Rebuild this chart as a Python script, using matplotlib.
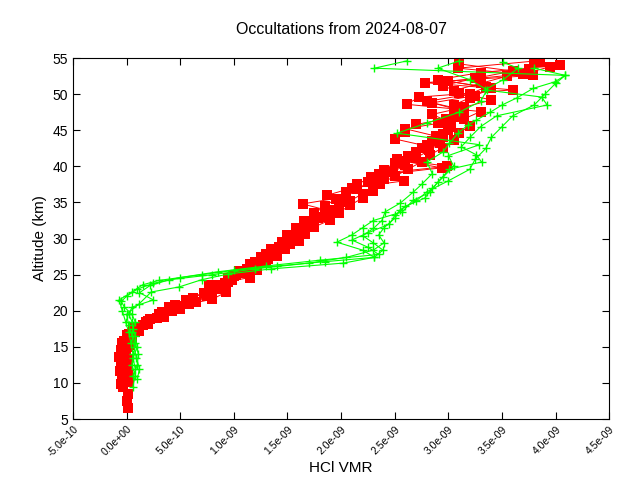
import matplotlib
matplotlib.use("Agg")
import matplotlib.pyplot as plt
import numpy as np

plt.rcParams['font.family'] = ['Liberation Sans', 'DejaVu Sans']

# HCl VMR profiles, x in units of 1e-9, altitude in km
red_a_alt = [6.5, 7.5, 8.5, 9.5, 10.5, 11.5, 12.5, 13.5, 14.5, 15.5, 16.5, 17.5, 18.5, 19.5, 20.5,
             21.5, 22.5, 23.5, 24.5, 25.5, 26.5, 27.5, 28.5, 29.5, 30.5, 31.5, 32.5, 33.5, 34.5,
             35.5, 36.5, 37.5, 38.5, 39.5, 40.5, 41.5, 42.5, 43.5, 44.5, 45.5, 46.5, 47.5, 48.5,
             49.5, 50.5, 51.5, 52.5, 53.5, 54.5]
red_a_vmr = [0.01, 0.00, 0.01, -0.03, 0.00, 0.01, -0.01, -0.02, -0.01, 0.00, 0.03, 0.07, 0.18, 0.30, 0.40,
             0.55, 0.72, 0.82, 0.95, 1.05, 1.15, 1.25, 1.35, 1.45, 1.50, 1.58, 1.65, 1.75, 1.85,
             1.95, 2.05, 2.15, 2.28, 2.40, 2.50, 2.62, 2.75, 2.85, 2.95, 3.02, 2.98, 3.10, 3.05,
             3.20, 3.05, 3.30, 3.55, 3.75, 3.85]

red_b_alt = [9.8, 10.8, 11.8, 12.8, 13.8, 14.8, 15.8, 16.8, 17.8, 18.8, 19.8, 20.8, 21.8, 22.8,
             23.8, 24.8, 25.8, 26.8, 27.8, 28.8, 29.8, 30.8, 31.8, 32.8, 33.8, 34.8, 35.8, 36.8,
             37.8, 38.8, 39.8, 40.8, 41.8, 42.8, 43.8, 44.8, 45.8, 46.8, 47.8, 48.8, 49.8, 50.8,
             51.8, 52.8, 53.8, 54.8]
red_b_vmr = [-0.05, -0.02, 0.00, -0.03, -0.05, -0.03, -0.02, 0.02, 0.10, 0.22, 0.33, 0.45, 0.62, 0.78,
             0.92, 1.00, 1.12, 1.20, 1.30, 1.42, 1.52, 1.58, 1.66, 1.78, 1.90, 1.64, 2.05, 2.15,
             2.25, 2.35, 2.94, 2.55, 2.70, 2.80, 2.50, 2.60, 2.70, 3.05, 3.15, 2.85, 3.25, 3.40,
             3.00, 3.70, 3.95, 3.80]

red_c_alt = [10.2, 11.2, 12.2, 13.2, 14.2, 15.2, 16.2, 17.2, 18.2, 19.2, 20.2, 21.2, 22.2, 23.2,
             24.2, 25.2, 26.2, 27.2, 28.2, 29.2, 30.2, 31.2, 32.2, 33.2, 34.2, 35.2, 36.2, 37.2,
             38.2, 39.2, 40.2, 41.2, 42.2, 43.2, 44.2, 45.2, 46.2, 47.2, 48.2, 49.2, 50.2, 51.2,
             52.2, 53.2, 54.2]
red_c_vmr = [0.02, -0.04, 0.00, 0.01, -0.04, 0.02, 0.05, 0.12, 0.20, 0.35, 0.50, 0.65, 0.80, 0.88,
             0.98, 1.10, 1.22, 1.32, 1.40, 1.52, 1.55, 1.62, 1.72, 1.85, 1.98, 2.08, 2.20, 2.30,
             2.40, 2.48, 2.60, 2.70, 2.82, 2.92, 2.88, 2.60, 3.00, 2.85, 3.15, 3.40, 3.10, 2.95,
             3.25, 3.60, 3.10]

red_d_alt = [13, 14, 15, 16, 17, 18, 19, 20, 21, 22, 23, 24, 25, 26, 27, 28, 29, 30, 31, 32, 33,
             34, 35, 36, 37, 38, 39, 40, 41, 42, 43, 44, 45, 46, 47, 48, 49, 50, 51, 52, 53, 54]
red_d_vmr = [0.00, -0.02, 0.01, 0.04, 0.08, 0.15, 0.28, 0.42, 0.58, 0.75, 0.85, 0.95, 1.02, 1.18,
             1.28, 1.38, 1.48, 1.52, 1.60, 1.70, 1.80, 1.92, 2.00, 1.87, 2.10, 2.59, 2.35, 2.99,
             2.52, 2.70, 2.80, 2.95, 3.00, 2.90, 3.10, 3.05, 2.80, 3.20, 3.35, 2.90, 3.30, 4.04]

red_e_alt = [11.6, 12.6, 13.6, 14.6, 15.6, 16.6, 17.6, 18.6, 19.6, 20.6, 21.6, 22.6, 23.6, 24.6,
             25.6, 26.6, 27.6, 28.6, 29.6, 30.6, 31.6, 32.6, 33.6, 34.6, 35.6, 36.6, 37.6, 38.6,
             39.6, 40.6, 41.6, 42.6, 43.6, 44.6, 45.6, 46.6, 47.6, 48.6, 49.6, 50.6, 51.6, 52.6,
             53.6, 54.6]
red_e_vmr = [-0.06, -0.05, -0.07, -0.05, -0.04, 0.00, 0.06, 0.20, 0.33, 0.47, 0.80, 0.93, 0.77, 1.15,
             1.22, 1.30, 1.40, 1.48, 1.61, 1.66, 1.75, 1.90, 1.98, 2.08, 2.20, 2.30, 2.36, 2.50,
             2.62, 2.75, 2.83, 2.95, 3.05, 3.10, 3.20, 3.15, 3.30, 2.61, 2.73, 3.60, 2.78, 3.79,
             3.09, 3.81]

green_a_alt = [9.5, 11.0, 12.5, 14.0, 15.5, 17.0, 18.5, 20.0, 21.5, 22.6, 23.6, 24.2, 25.0, 25.6,
               26.2, 26.8, 27.4, 28.4, 29.4, 30.4, 31.4, 32.5, 33.7, 34.9, 36.4, 37.5, 39.0, 40.6,
               42.0, 43.2, 44.6, 45.7, 46.4, 47.5, 48.5, 49.5, 50.8, 51.7, 52.6, 53.6, 54.6]
green_a_vmr = [0.06, 0.08, 0.05, 0.06, 0.04, 0.02, -0.01, -0.04, -0.07, 0.05, 0.15, 0.30, 0.70, 1.00,
               1.40, 1.85, 2.31, 2.39, 2.30, 2.20, 2.30, 2.38, 2.41, 2.55, 2.67, 2.75, 2.85, 2.80,
               2.95, 3.01, 3.09, 3.18, 3.26, 3.39, 3.50, 3.64, 3.79, 3.99, 4.09, 2.31, 2.61]

green_b_alt = [10.5, 12.0, 13.5, 15.0, 16.5, 18.0, 19.5, 21.0, 22.6, 23.3, 24.3, 25.1, 25.8, 26.6,
               27.4, 28.4, 29.5, 30.5, 31.5, 32.5, 33.7, 35.3, 36.4, 37.8, 39.6, 40.6, 41.6, 42.7,
               44.0, 45.5, 47.0, 48.5, 49.6, 50.6, 52.0, 53.6, 54.4]
green_b_vmr = [0.10, 0.12, 0.09, 0.07, 0.05, 0.02, 0.00, 0.12, 0.23, 0.49, 0.70, 0.95, 1.35, 2.02,
               2.31, 2.20, 1.96, 2.10, 2.20, 2.30, 2.57, 2.67, 2.83, 2.90, 3.01, 3.31, 3.26, 3.12,
               3.20, 3.30, 3.45, 3.92, 3.87, 3.34, 3.51, 3.65, 3.51]

green_c_alt = [11.0, 12.5, 14.0, 15.5, 17.0, 18.5, 19.5, 20.5, 21.3, 22.0, 23.0, 23.8, 24.6, 25.4,
               26.2, 27.0, 27.8, 28.8, 29.8, 30.8, 32.0, 33.2, 34.5, 35.6, 37.0, 38.5, 40.0, 41.5,
               43.0, 44.6, 46.0, 47.5, 49.0, 50.6, 52.0, 53.6, 54.6]
green_c_vmr = [0.06, 0.10, 0.11, 0.08, 0.05, 0.08, 0.05, -0.02, -0.05, 0.00, 0.10, 0.25, 0.50, 0.85,
               1.30, 1.80, 2.35, 2.25, 2.10, 2.25, 2.45, 2.50, 2.60, 2.78, 2.85, 2.95, 3.05, 3.00,
               3.29, 2.52, 2.80, 3.10, 3.30, 3.36, 3.20, 2.90, 3.10]

green_d_alt = [12.0, 13.5, 15.0, 16.5, 17.5, 18.5, 19.5, 20.5, 21.5, 22.5, 23.5, 24.3, 25.0, 25.8,
               26.6, 27.4, 28.4, 29.4, 30.5, 31.5, 32.8, 34.0, 35.2, 36.5, 38.0, 39.6, 41.0, 42.5,
               44.0, 45.5, 47.0, 48.5, 50.0, 51.5, 52.6, 53.6]
green_d_vmr = [0.08, 0.06, 0.10, 0.08, 0.06, 0.05, 0.02, 0.05, 0.25, 0.12, 0.22, 0.40, 0.80, 1.20,
               1.70, 2.05, 2.30, 2.40, 2.35, 2.40, 2.50, 2.55, 2.70, 2.80, 3.00, 3.20, 3.25, 3.35,
               3.40, 3.50, 3.60, 3.80, 3.90, 4.00, 4.09, 3.80]

red_profiles = [(red_a_vmr, red_a_alt), (red_b_vmr, red_b_alt), (red_c_vmr, red_c_alt),
                (red_d_vmr, red_d_alt), (red_e_vmr, red_e_alt)]
green_profiles = [(green_a_vmr, green_a_alt), (green_b_vmr, green_b_alt),
                  (green_c_vmr, green_c_alt), (green_d_vmr, green_d_alt)]

xticks = np.arange(-5e-10, 4.51e-9, 5e-10)
xticklabels = ['-5.0e-10', '0.0e+00', '5.0e-10', '1.0e-09', '1.5e-09', '2.0e-09',
               '2.5e-09', '3.0e-09', '3.5e-09', '4.0e-09', '4.5e-09']

fig = plt.figure(figsize=(6.4, 4.8), dpi=100)
ax = fig.add_axes([0.114, 0.127, 0.838, 0.752])

for vmr, alt in red_profiles:
    ax.plot(np.array(vmr) * 1e-9, alt, color='#ff0000', lw=0.7, marker='s', ms=6.5,
            markeredgewidth=0)
for vmr, alt in green_profiles:
    ax.plot(np.array(vmr) * 1e-9, alt, color='#00ff00', lw=0.8, marker='+', ms=6,
            markeredgewidth=1.0)

ax.set_xlim(-5e-10, 4.5e-9)
ax.set_ylim(5, 55)
ax.set_xticks(xticks)
ax.set_xticklabels(xticklabels, rotation=45, ha='right', rotation_mode='anchor', fontsize=7.5)
ax.set_yticks(np.arange(5, 56, 5))
ax.tick_params(axis='y', labelsize=10)
ax.tick_params(direction='in', top=True, right=True, length=5, width=0.8)
ax.set_xlabel('HCl VMR', fontsize=11, labelpad=2)
ax.set_ylabel('Altitude (km)', fontsize=11)
ax.set_title('Occultations from 2024-08-07', fontsize=11.5, pad=17)

fig.savefig('out.png', dpi=100)
